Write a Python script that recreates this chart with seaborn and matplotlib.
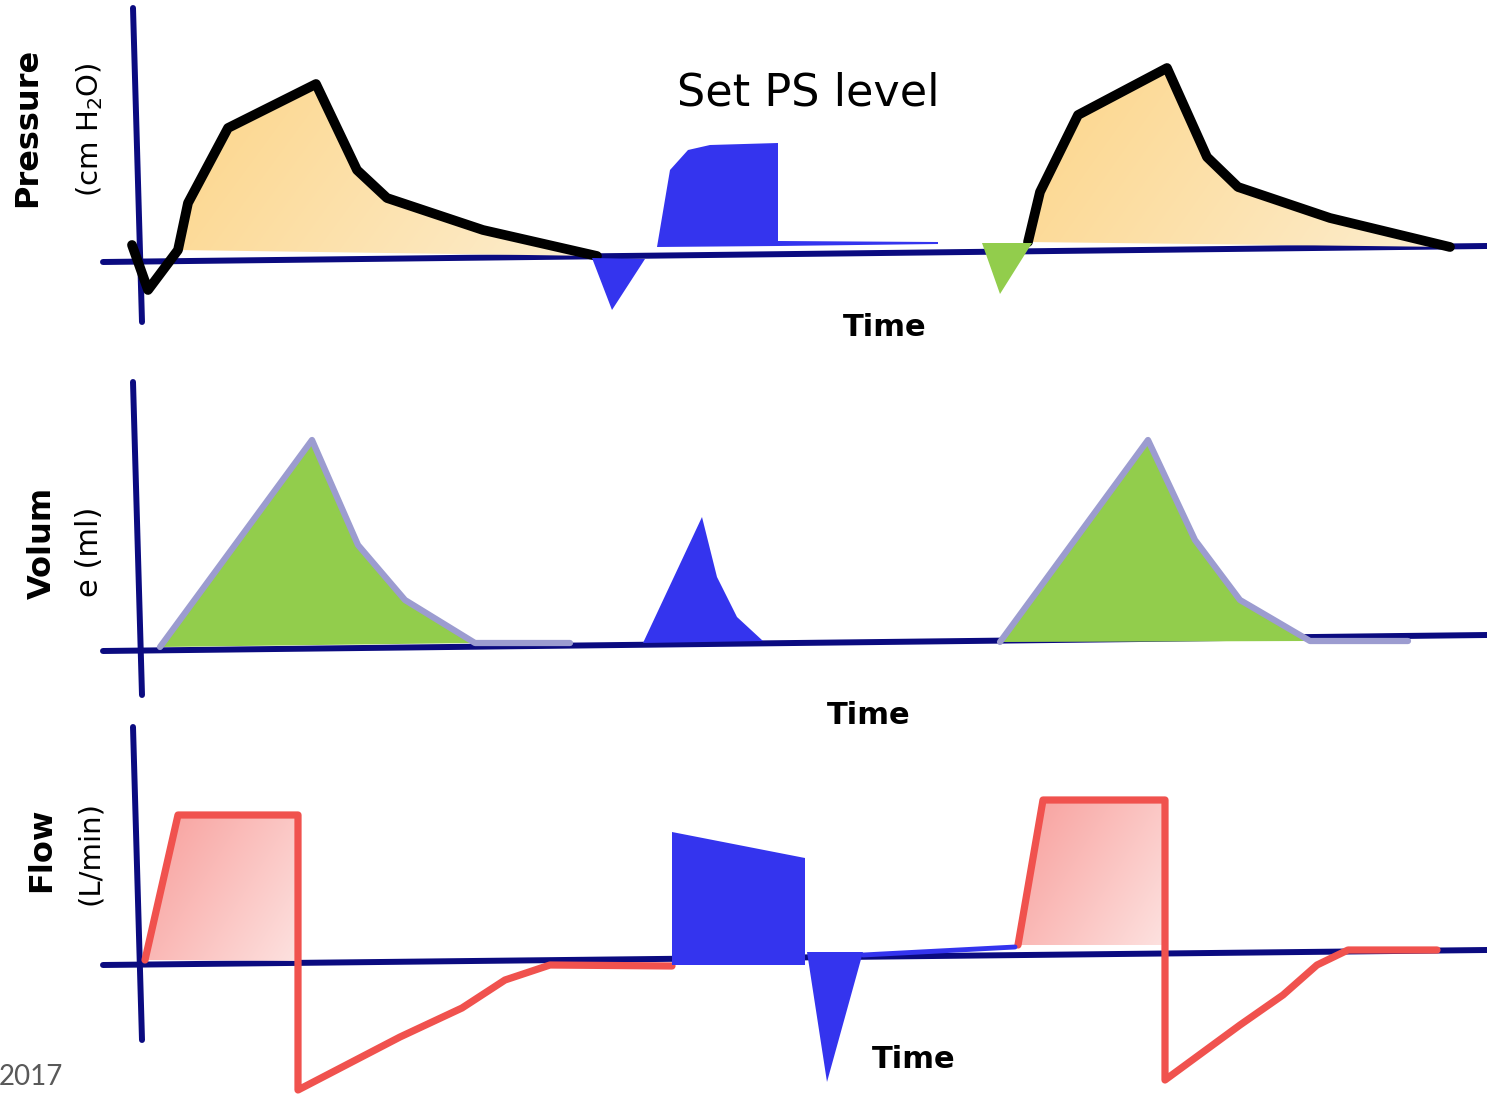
import numpy as np
import matplotlib
matplotlib.use("Agg")
import matplotlib.pyplot as plt
import seaborn as sns
from matplotlib.patches import Polygon
from matplotlib.colors import to_rgb

# ---------------- data (time in s, values in panel units) ----------------
# hand-drawn axes
p_axis_h_t = [-0.37, 13.47]; p_axis_h_v = [-0.7, 0.9]
p_axis_v_t = [-0.07, 0.02];  p_axis_v_v = [24.7, -6.7]
v_axis_h_t = [-0.37, 13.47]; v_axis_h_v = [-0.6, 1.0]
v_axis_v_t = [-0.07, 0.02];  v_axis_v_v = [26.3, -5.0]
f_axis_h_t = [-0.37, 13.47]; f_axis_h_v = [-0.7, 0.8]
f_axis_v_t = [-0.07, 0.02];  f_axis_v_v = [23.1, -8.2]

# Pressure (cm H2O)
press1_t = [-0.08, 0.08, 0.38, 0.48, 0.88, 1.76, 2.17, 2.47, 3.43, 4.57]
press1_v = [1.0, -3.5, 0.5, 5.2, 12.7, 17.1, 8.5, 5.7, 2.5, -0.1]
press2_t = [8.88, 9.00, 9.38, 10.27, 10.67, 10.98, 11.90, 13.10]
press2_v = [1.3, 6.3, 14.0, 18.7, 9.8, 6.8, 3.7, 0.8]
ps_trig_t = [4.52, 5.05, 4.72]
ps_trig_v = [-0.3, -0.4, -5.5]
ps_level_t = [5.17, 5.30, 5.48, 5.70, 6.38, 6.38, 7.98, 7.98, 6.38]
ps_level_v = [0.8, 8.5, 10.5, 11.0, 11.2, 1.4, 1.3, 1.1, 0.9]
trig2_t = [8.42, 8.92, 8.60]
trig2_v = [1.2, 1.2, -3.9]

# Volume (ml)
vol1_t = [0.20, 1.72, 2.18, 2.65, 3.35, 4.30]
vol1_v = [-0.2, 20.5, 10.0, 4.5, 0.2, 0.2]
vol2_t = [8.60, 10.08, 10.55, 11.00, 11.70, 12.68]
vol2_v = [0.3, 20.5, 10.5, 4.5, 0.4, 0.4]
vol_ps_t = [5.03, 5.62, 5.77, 5.97, 6.23]
vol_ps_v = [0.2, 12.8, 6.8, 2.8, 0.4]

# Flow (L/min)
flow1_t = [0.05, 0.38, 1.58, 1.58, 2.60, 3.22, 3.65, 4.10, 5.32]
flow1_v = [-0.2, 14.3, 14.3, -13.2, -7.9, -5.0, -2.2, -0.7, -0.8]
flow1_fill_t = [0.07, 0.38, 1.58, 1.58]
flow1_fill_v = [-0.2, 14.3, 14.3, -0.3]
flow2_t = [8.78, 9.03, 10.25, 10.25, 11.00, 11.43, 11.77, 12.08, 12.97]
flow2_v = [1.3, 15.8, 15.8, -12.2, -6.7, -3.7, -0.7, 0.8, 0.8]
flow2_fill_t = [8.78, 9.03, 10.25, 10.25]
flow2_fill_v = [1.3, 15.8, 15.8, 1.3]
flow_ps_t = [5.32, 5.32, 6.65, 6.65]
flow_ps_v = [-0.7, 12.6, 10.0, -0.7]
flow_ps_exp_t = [6.67, 7.23, 6.87]
flow_ps_exp_v = [0.6, 0.6, -12.4]
flow_ps_base_t = [7.23, 8.75]
flow_ps_base_v = [0.3, 1.1]

# ---------------- styling ----------------
NAVY = "#0b0b80"
BLUE = "#3434ee"
GREEN = "#92cd4c"
LAV = "#9c9cd0"
RED = "#f0524e"

sns.set_theme(style="white")
plt.rcParams["font.family"] = ["DejaVu Sans"]
plt.rcParams["mathtext.default"] = "regular"

W, H = 1487, 1098
fig = plt.figure(figsize=(W / 100, H / 100), dpi=100)
fig.patch.set_facecolor("white")

XLIM = (-1.40, 13.47)


def make_ax(top_px, bot_px, ylim):
    ax = fig.add_axes([0, 1 - bot_px / H, 1, (bot_px - top_px) / H])
    ax.set_xlim(*XLIM)
    ax.set_ylim(*ylim)
    ax.axis("off")
    return ax


def line(ax, t, v, color, lw, z):
    sns.lineplot(x=t, y=v, sort=False, estimator=None, ax=ax, color=color,
                 linewidth=lw, zorder=z, solid_joinstyle="round",
                 solid_capstyle="round", legend=False)


def gradient_poly(ax, t, v, c1, c2, diag=0.0, z=3):
    poly = Polygon(np.column_stack([t, v]), closed=True, facecolor="none",
                   edgecolor="none")
    ax.add_patch(poly)
    x0, x1 = min(t), max(t)
    y0, y1 = min(v), max(v)
    X, Y = np.meshgrid(np.linspace(0, 1, 300), np.linspace(0, 1, 150))
    g = (X + diag * (1 - Y)) / (1 + diag)
    a = np.array(to_rgb(c1)); b = np.array(to_rgb(c2))
    img = a[None, None, :] * (1 - g[..., None]) + b[None, None, :] * g[..., None]
    im = ax.imshow(img, extent=[x0, x1, y0, y1], origin="lower",
                   aspect="auto", zorder=z, interpolation="bilinear")
    im.set_clip_path(poly)


def solid(ax, t, v, color, z):
    ax.fill(t, v, color=color, linewidth=0, zorder=z)


# ---------------- Pressure panel ----------------
axp = make_ax(0, 345, (-9.0, 25.5))
line(axp, p_axis_h_t, p_axis_h_v, NAVY, 4.3, 2)
line(axp, p_axis_v_t, p_axis_v_v, NAVY, 4.3, 2)
gradient_poly(axp, press1_t[2:], press1_v[2:], "#fcd589", "#fdeed0", diag=0.3)
gradient_poly(axp, press2_t, press2_v, "#fcd589", "#fdeed0", diag=0.3)
line(axp, press1_t, press1_v, "black", 7.0, 4)
line(axp, press2_t, press2_v, "black", 7.0, 4)
solid(axp, ps_trig_t, ps_trig_v, BLUE, 5)
solid(axp, ps_level_t, ps_level_v, BLUE, 5)
solid(axp, trig2_t, trig2_v, GREEN, 5)
axp.set_xlim(*XLIM); axp.set_ylim(-9.0, 25.5)

# ---------------- Volume panel ----------------
axv = make_ax(345, 720, (-7.5, 30.0))
line(axv, v_axis_h_t, v_axis_h_v, NAVY, 4.3, 2)
line(axv, v_axis_v_t, v_axis_v_v, NAVY, 4.3, 2)
solid(axv, vol1_t[:5], vol1_v[:5], GREEN, 3)
solid(axv, vol2_t[:5], vol2_v[:5], GREEN, 3)
line(axv, vol1_t, vol1_v, LAV, 4.5, 4)
line(axv, vol2_t, vol2_v, LAV, 4.5, 4)
solid(axv, vol_ps_t, vol_ps_v, BLUE, 5)
axv.set_xlim(*XLIM); axv.set_ylim(-7.5, 30.0)

# ---------------- Flow panel ----------------
axf = make_ax(720, 1098, (-14.0, 23.8))
line(axf, f_axis_h_t, f_axis_h_v, NAVY, 4.3, 2)
line(axf, f_axis_v_t, f_axis_v_v, NAVY, 4.3, 2)
gradient_poly(axf, flow1_fill_t, flow1_fill_v, "#f89e9b", "#fde2e0", diag=0.6)
gradient_poly(axf, flow2_fill_t, flow2_fill_v, "#f89e9b", "#fde2e0", diag=0.6)
line(axf, flow1_t, flow1_v, RED, 5.2, 4)
line(axf, flow2_t, flow2_v, RED, 5.2, 4)
solid(axf, flow_ps_t, flow_ps_v, BLUE, 5)
solid(axf, flow_ps_exp_t, flow_ps_exp_v, BLUE, 5)
line(axf, flow_ps_base_t, flow_ps_base_v, BLUE, 3.5, 5)
axf.set_xlim(*XLIM); axf.set_ylim(-14.0, 23.8)


# ---------------- text ----------------
def ftext(px, py, s, **kw):
    fig.text(px / W, 1 - py / H, s, ha="center", va="center", **kw)


ftext(28, 127, "Pressure", rotation=90, fontsize=23, fontweight="bold", color="black")
ftext(90, 130, "(cm H$_2$O)", rotation=90, fontsize=21, color="black")
ftext(42, 543, "Volum", rotation=90, fontsize=23, fontweight="bold", color="black")
ftext(89, 552, "e (ml)", rotation=90, fontsize=22, color="black")
ftext(42, 850, "Flow", rotation=90, fontsize=23, fontweight="bold", color="black")
ftext(90, 853, "(L/min)", rotation=90, fontsize=21, color="black")

ftext(808, 93, "Set PS level", fontsize=32, color="black")
ftext(885, 327, "Time", fontsize=22, fontweight="bold", color="black")
ftext(869, 716, "Time", fontsize=22, fontweight="bold", color="black")
ftext(914, 1060, "Time", fontsize=22, fontweight="bold", color="black")

fig.text(-1 / W, 1 - 1077 / H, "2017", ha="left", va="center", fontsize=20,
         color="#595959", family=["Lato", "DejaVu Sans"])

fig.savefig("out.png", dpi=100, facecolor="white")
